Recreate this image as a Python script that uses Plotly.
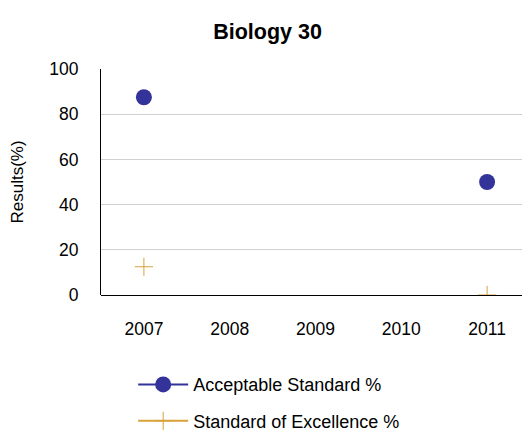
import plotly.graph_objects as go

years = ["2007", "2008", "2009", "2010", "2011"]
acceptable = [87.5, None, None, None, 50]
excellence = [12.5, None, None, None, 0]
y_ticks = [0, 20, 40, 60, 80, 100]

FONT = "Liberation Sans, Arial, sans-serif"
BLUE = '#333399'
GOLD = '#D9A13A'

# page body adds an 8px margin, so the figure is 8px smaller on each axis
W, H = 522, 426

fig = go.Figure()

fig.add_trace(go.Scatter(
    x=years, y=acceptable,
    mode='lines+markers',
    name='Acceptable Standard %',
    legendgroup='a',
    line=dict(color=BLUE, width=2),
    marker=dict(symbol='circle', size=16, color=BLUE),
))

fig.add_trace(go.Scatter(
    x=years, y=excellence,
    mode='lines+markers',
    name='Standard of Excellence %',
    legendgroup='b',
    line=dict(color=GOLD, width=2),
    marker=dict(symbol='cross-thin', size=13,
                line=dict(color=GOLD, width=1)),
))

fig.update_layout(
    width=W, height=H,
    margin=dict(l=93, r=0, t=61, b=139, autoexpand=False),
    paper_bgcolor='white',
    plot_bgcolor='white',
    font=dict(family=FONT, size=17.5, color='black'),
    title=dict(text='<b>Biology 30</b>', x=259.5 / W, xanchor='center',
               y=1 - 23 / H, yanchor='middle',
               font=dict(family=FONT, size=21.5, color='black')),
    xaxis=dict(
        type='category', range=[-0.5, 4.5], automargin=False,
        showgrid=False, showline=False, zeroline=False,
        ticks='', ticklabelstandoff=21,
        tickfont=dict(size=17.5),
    ),
    yaxis=dict(
        range=[0, 100], tickvals=y_ticks, automargin=False,
        showgrid=True, gridcolor='#d0d0d0', gridwidth=1,
        showline=True, linecolor='black', linewidth=1,
        zeroline=True, zerolinecolor='black', zerolinewidth=1,
        ticks='', ticklabelstandoff=18,
        tickfont=dict(size=17.5),
        title=dict(text='Results(%)', font=dict(size=17), standoff=22),
    ),
    legend=dict(
        orientation='v', x=0.075, xanchor='left',
        y=-0.315, yanchor='top',
        tracegroupgap=10, itemwidth=50,
        font=dict(size=18),
        bgcolor='rgba(0,0,0,0)',
    ),
    showlegend=True,
)

fig.write_html("out.html")
